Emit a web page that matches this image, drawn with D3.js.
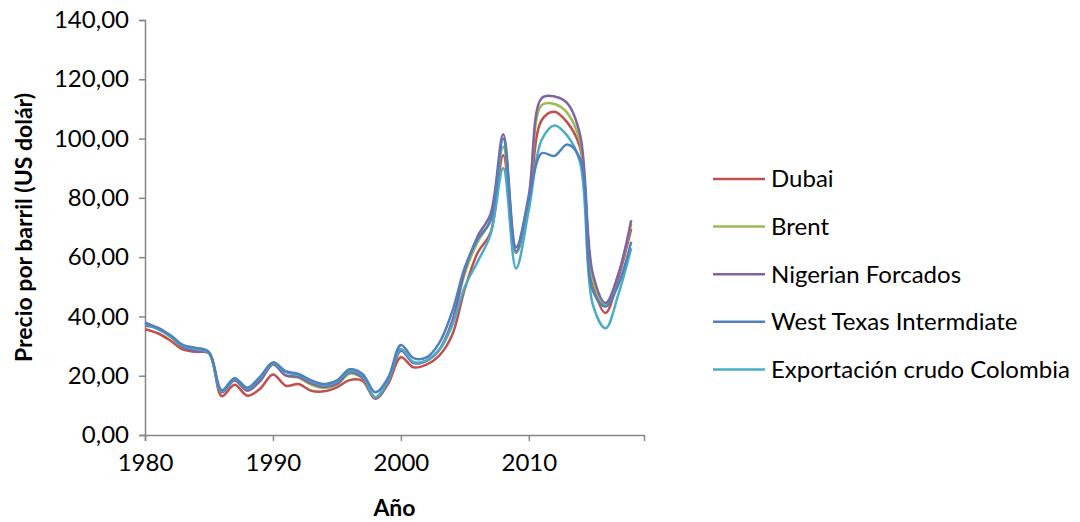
<!DOCTYPE html>
<html>
<head>
<meta charset="utf-8">
<script src="https://cdn.jsdelivr.net/npm/d3@7"></script>
<style>
  body { margin: 0; background: #fff; }
  text { font-family: Lato, "Open Sans", sans-serif; fill: #000; }
</style>
</head>
<body>
<script>
// precio anual del barril, 1980 - 2018
var years = d3.range(1980, 2019);

var dubai = [35.69, 34.32, 31.80, 28.78, 28.06, 27.53, 13.10, 16.95, 13.27, 15.62,
  20.45, 16.63, 17.17, 14.93, 14.74, 16.10, 18.52, 18.23, 12.21, 17.25,
  26.20, 22.81, 23.74, 26.78, 33.64, 49.35, 61.50, 68.19, 94.34, 61.39,
  78.06, 106.18, 109.08, 105.47, 97.07, 51.20, 41.19, 53.13, 69.51];
var brent = [36.83, 35.93, 32.97, 29.55, 28.78, 27.56, 14.43, 18.44, 14.92, 18.23,
  23.73, 20.00, 19.32, 16.97, 15.82, 17.02, 20.67, 19.09, 12.72, 17.97,
  28.50, 24.44, 25.02, 28.83, 38.27, 54.52, 65.14, 72.39, 97.26, 61.67,
  79.50, 111.26, 111.67, 108.66, 98.95, 52.39, 43.73, 54.19, 71.31];
var nigerian = [36.98, 36.18, 33.29, 29.54, 28.14, 27.75, 14.46, 18.39, 15.00, 18.30,
  23.85, 20.11, 19.61, 17.41, 16.25, 17.26, 21.16, 19.33, 12.62, 18.00,
  28.42, 24.23, 25.04, 28.66, 38.13, 55.69, 67.07, 74.48, 101.43, 63.35,
  81.05, 113.65, 114.21, 111.95, 101.35, 54.41, 44.54, 54.31, 72.47];
var wti = [37.96, 36.08, 33.65, 30.30, 29.39, 27.98, 15.10, 19.18, 15.97, 19.68,
  24.50, 21.54, 20.57, 18.45, 17.21, 18.42, 22.16, 20.61, 14.39, 19.31,
  30.37, 25.93, 26.16, 31.07, 41.49, 56.59, 66.02, 72.20, 100.06, 61.92,
  79.45, 95.04, 94.13, 97.99, 93.28, 48.71, 43.34, 50.79, 65.20];
var colombia = [37.6, 35.7, 33.3, 30.0, 29.1, 27.7, 14.8, 18.9, 15.7, 19.4,
  24.2, 21.2, 20.3, 18.1, 16.8, 18.1, 21.6, 20.1, 12.6, 18.6,
  29.0, 24.6, 25.2, 28.8, 36.8, 50.0, 58.5, 67.5, 90.0, 56.2,
  76.0, 99.5, 104.4, 101.0, 92.0, 44.0, 36.0, 47.5, 63.0];

var seriesNames = ["Dubai", "Brent", "Nigerian Forcados", "West Texas Intermdiate", "Exportación crudo Colombia"];
var seriesValues = [dubai, brent, nigerian, wti, colombia];
var colors = ["#C0504D", "#9BBB59", "#8064A2", "#4F81BD", "#4BACC6"];
// orden de dibujo: WTI queda encima de Colombia
var drawOrder = [0, 1, 2, 4, 3];

var xTicks = [1980, 1990, 2000, 2010];
var yTicks = [0, 20, 40, 60, 80, 100, 120, 140];

var margin = {top: 20, left: 145},
    plotW = 499,
    plotH = 415;

var svg = d3.select("body").append("svg")
    .attr("width", 1080)
    .attr("height", 522);

var g = svg.append("g")
    .attr("transform", "translate(" + margin.left + "," + margin.top + ")");

var x = d3.scaleLinear().domain([1980, 2019]).range([0, plotW]);
var y = d3.scaleLinear().domain([0, 140]).range([plotH, 0]);

var fmt = function(d) { return d3.format(".2f")(d).replace(".", ","); };

// eje y
var yAxis = g.append("g")
    .call(d3.axisLeft(y).tickValues(yTicks).tickFormat(fmt).tickSizeOuter(0).tickSize(6).tickPadding(10));
// eje x
var xAxis = g.append("g")
    .attr("transform", "translate(0," + plotH + ")")
    .call(d3.axisBottom(x).tickValues(xTicks).tickFormat(d3.format("d")).tickSizeOuter(0).tickSize(6).tickPadding(13));

[xAxis, yAxis].forEach(function(a) {
  a.select(".domain").attr("stroke", "#868686").attr("stroke-width", 1.5);
  a.selectAll(".tick line").attr("stroke", "#868686").attr("stroke-width", 1.5);
  a.selectAll(".tick text").attr("font-size", "24px").attr("fill", "#000")
    .style("font-family", "Lato, 'Open Sans', sans-serif");
});

var line = d3.line()
    .x(function(d, i) { return x(years[i]); })
    .y(function(d) { return y(d); })
    .curve(d3.curveCatmullRom.alpha(0.5));

drawOrder.forEach(function(k) {
  g.append("path")
      .datum(seriesValues[k])
      .attr("fill", "none")
      .attr("stroke", colors[k])
      .attr("stroke-width", 2.5)
      .attr("stroke-linejoin", "round")
      .attr("d", line);
});

// titulos de ejes
svg.append("text")
    .attr("x", margin.left + plotW / 2)
    .attr("y", 516)
    .attr("text-anchor", "middle")
    .attr("font-size", "23px")
    .attr("font-weight", "bold")
    .text("Año");

svg.append("text")
    .attr("transform", "translate(32," + (margin.top + plotH / 2) + ") rotate(-90)")
    .attr("text-anchor", "middle")
    .attr("font-size", "23px")
    .attr("font-weight", "bold")
    .text("Precio por barril (US dolár)");

// leyenda
var legend = svg.append("g").attr("transform", "translate(713,179)");
seriesNames.forEach(function(name, i) {
  var row = legend.append("g").attr("transform", "translate(0," + (i * 47.6) + ")");
  row.append("line")
      .attr("x1", 0).attr("x2", 52)
      .attr("stroke", colors[i])
      .attr("stroke-width", 2.5);
  row.append("text")
      .attr("x", 58)
      .attr("dy", "0.35em")
      .attr("font-size", "24px")
      .text(name);
});
</script>
</body>
</html>
